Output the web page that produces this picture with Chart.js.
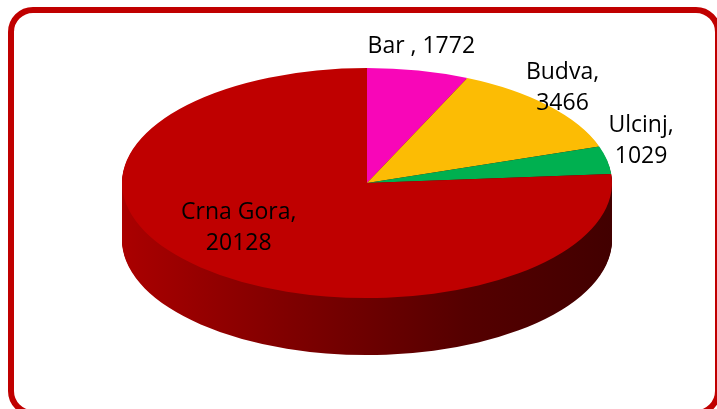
<!DOCTYPE html>
<html>
<head>
<meta charset="utf-8">
<script src="https://cdn.jsdelivr.net/npm/chart.js@4"></script>
<style>
  html,body{margin:0;padding:0;background:#fff;overflow:hidden}
  #wrap{position:relative;width:717px;height:409px}
  #chart{position:absolute;left:0;top:0}
  .frame{position:absolute;left:8px;top:7px;width:713px;height:409px;box-sizing:border-box;
    border:6px solid #c00000;border-radius:25px;pointer-events:none}
</style>
</head>
<body>
<div id="wrap">
  <canvas id="chart" width="717" height="409"></canvas>
  <div class="frame"></div>
</div>
<script>
// data
const gradovi  = ['Bar ', 'Budva', 'Ulcinj', 'Crna Gora'];
const vrijednosti = [1772, 3466, 1029, 20128];
const boje = ['#f806b8', '#fcbc04', '#00b050', '#bf0000'];

// layout (3D look)
const STRETCH = 245 / 115;   // ellipse x/y ratio
const DEPTH = 57;            // thickness of the side
const labelLines = [1, 2, 2, 2];               // one or two lines per label
const labelNudge = [[3,-24],[14,-18],[34,-19],[38,-40]]; // from rim point

const pie3d = {
  id: 'pie3d',
  beforeDatasetsDraw(chart) {
    const meta = chart.getDatasetMeta(0);
    const a0 = meta.data[0];
    const ctx = chart.ctx;
    const cx = a0.x, cy = a0.y, r = a0.outerRadius;
    ctx.save();
    ctx.translate(cx, cy); ctx.scale(STRETCH, 1); ctx.translate(-cx, -cy);
    const g = ctx.createLinearGradient(cx - r, 0, cx + r, 0);
    g.addColorStop(0, '#aa0000');
    g.addColorStop(0.35, '#7e0000');
    g.addColorStop(0.7, '#550000');
    g.addColorStop(1, '#420000');
    for (let dy = DEPTH; dy >= 1; dy--) {
      ctx.save();
      ctx.translate(0, dy);
      meta.data.forEach(arc => {
        const side = Object.create(arc);
        side.options = Object.assign({}, arc.options, {backgroundColor: g, borderWidth: 0});
        arc.draw.call(side, ctx);
      });
      ctx.restore();
    }
  },
  afterDatasetsDraw(chart) {
    const ctx = chart.ctx;
    ctx.restore();
    const meta = chart.getDatasetMeta(0);
    ctx.save();
    ctx.font = '23px "Open Sans", sans-serif';
    ctx.fillStyle = '#000';
    ctx.textAlign = 'center';
    ctx.textBaseline = 'middle';
    meta.data.forEach((arc, i) => {
      const mid = (arc.startAngle + arc.endAngle) / 2;
      const x = arc.x + STRETCH * arc.outerRadius * Math.cos(mid) + labelNudge[i][0];
      const y = arc.y + arc.outerRadius * Math.sin(mid) + labelNudge[i][1];
      const lines = labelLines[i] === 1
        ? [gradovi[i] + ', ' + vrijednosti[i]]
        : [gradovi[i] + ',', String(vrijednosti[i])];
      const lh = 31;
      lines.forEach((t, k) => {
        ctx.fillText(t, x, y + (k - (lines.length - 1) / 2) * lh);
      });
    });
    ctx.restore();
  }
};

new Chart(document.getElementById('chart'), {
  type: 'pie',
  data: {
    labels: gradovi,
    datasets: [{ data: vrijednosti, backgroundColor: boje, borderWidth: 0, clip: false }]
  },
  options: {
    responsive: false,
    animation: false,
    layout: { padding: { left: 252, right: 235, top: 68, bottom: 111 } },
    plugins: { legend: { display: false }, tooltip: { enabled: false } },
    events: []
  },
  plugins: [pie3d]
});
</script>
</body>
</html>
